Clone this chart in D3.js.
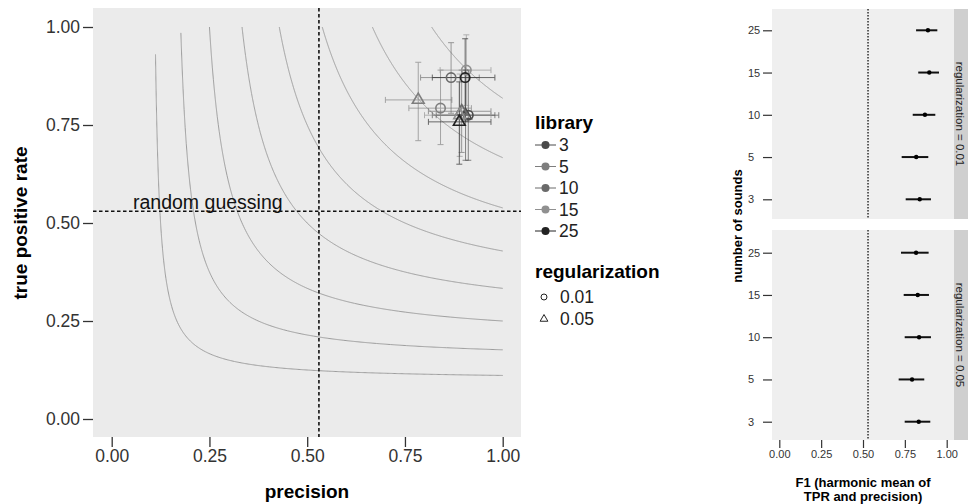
<!DOCTYPE html>
<html><head><meta charset="utf-8">
<script src="https://cdn.jsdelivr.net/npm/d3@7"></script>
<style>
body{margin:0;background:#fff}
svg{display:block;font-family:"Liberation Sans",Arial,Helvetica,sans-serif}
</style>
</head><body>
<svg id="c" width="968" height="504"></svg>
<script>
// ---------- data ----------
const libraries = ["3", "5", "10", "15", "25"];
const regularizations = ["0.01", "0.05"];
const axisTicks = [0, 0.25, 0.5, 0.75, 1];
const randomGuessing = 0.53;
const isoF1Levels = [0.2, 0.3, 0.4, 0.5, 0.6, 0.7, 0.8, 0.9];
const isoF1TopTPR = [0.93, 0.985, 1, 1, 1, 1, 1, 1];

// regularization = 0.01 (library order 3,5,10,15,25)
const precision01 = [0.912, 0.841, 0.868, 0.907, 0.904];
const precisionLo01 = [0.83, 0.76, 0.79, 0.84, 0.82];
const precisionHi01 = [0.98, 0.92, 0.94, 0.97, 0.98];
const tpr01 = [0.775, 0.793, 0.871, 0.890, 0.871];
const tprLo01 = [0.66, 0.70, 0.78, 0.80, 0.76];
const tprHi01 = [0.89, 0.89, 0.96, 0.98, 0.97];
// regularization = 0.05
const precision05 = [0.905, 0.784, 0.895, 0.890, 0.889];
const precisionLo05 = [0.82, 0.70, 0.81, 0.80, 0.81];
const precisionHi05 = [0.99, 0.87, 0.97, 0.97, 0.97];
const tpr05 = [0.775, 0.814, 0.785, 0.775, 0.758];
const tprLo05 = [0.66, 0.71, 0.68, 0.67, 0.65];
const tprHi05 = [0.89, 0.91, 0.89, 0.88, 0.86];

// F1 panel
const soundsOrder = ["25", "15", "10", "5", "3"];
const f1Mean01 = [0.839, 0.818, 0.870, 0.896, 0.888];
const f1Lo01 = [0.755, 0.731, 0.797, 0.830, 0.817];
const f1Hi01 = [0.906, 0.890, 0.932, 0.954, 0.944];
const f1Mean05 = [0.833, 0.793, 0.835, 0.827, 0.817];
const f1Lo05 = [0.749, 0.713, 0.749, 0.743, 0.727];
const f1Hi05 = [0.902, 0.866, 0.906, 0.894, 0.892];

const libraryColors = ["#4a4a4a", "#7e7e7e", "#6a6a6a", "#909090", "#222222"];

// ---------- build ----------
const svg = d3.select("#c");
const color = d3.scaleOrdinal().domain(libraries).range(libraryColors);

const pts = [];
libraries.forEach((lib, i) => {
  pts.push({lib, reg: "0.01", p: precision01[i], pl: precisionLo01[i], ph: precisionHi01[i], r: tpr01[i], rl: tprLo01[i], rh: tprHi01[i]});
  pts.push({lib, reg: "0.05", p: precision05[i], pl: precisionLo05[i], ph: precisionHi05[i], r: tpr05[i], rl: tprLo05[i], rh: tprHi05[i]});
});

// ---------- left panel ----------
const L = {left: 93, right: 521, top: 8, bottom: 437};
const x = d3.scaleLinear().domain([0, 1]).range([111.7, 502.7]);
const y = d3.scaleLinear().domain([0, 1]).range([419, 27]);

svg.append("rect").attr("x", L.left).attr("y", L.top)
  .attr("width", L.right - L.left).attr("height", L.bottom - L.top)
  .attr("fill", "#ebebeb");

const gL = svg.append("g");
svg.append("clipPath").attr("id", "clipL").append("rect")
  .attr("x", L.left).attr("y", L.top).attr("width", L.right - L.left).attr("height", L.bottom - L.top);

// iso-F1 curves
const line = d3.line().x(d => x(d[0])).y(d => y(d[1]));
isoF1Levels.forEach((F, k) => {
  const rTop = isoF1TopTPR[k];
  const rBot = F / (2 - F);
  const pTop = F * rTop / (2 * rTop - F);
  const arr = [];
  d3.range(0, 301).forEach(i => {
    const r = rBot + (rTop - rBot) * i / 300;
    arr.push([F * r / (2 * r - F), r]);
    const p = pTop + (1 - pTop) * i / 300;
    arr.push([p, F * p / (2 * p - F)]);
  });
  arr.sort((a, b) => a[0] - b[0]);
  gL.append("path").datum(arr).attr("d", line)
    .attr("fill", "none").attr("stroke", "#9d9d9d").attr("stroke-width", 1);
});

// random guessing lines
gL.append("line").attr("x1", L.left).attr("x2", L.right)
  .attr("y1", y(randomGuessing)).attr("y2", y(randomGuessing))
  .attr("stroke", "#111").attr("stroke-width", 1.6).attr("stroke-dasharray", "3.5,2.5");
gL.append("line").attr("x1", x(randomGuessing)).attr("x2", x(randomGuessing))
  .attr("y1", L.top).attr("y2", L.bottom)
  .attr("stroke", "#111").attr("stroke-width", 1.6).attr("stroke-dasharray", "3.5,2.5");
gL.append("text").attr("x", 133).attr("y", y(randomGuessing) - 2)
  .attr("font-size", 19.5).attr("fill", "#111").text("random guessing");

// error bars
const cap = 3;
const eb = gL.append("g").attr("clip-path", "url(#clipL)");
pts.forEach(d => {
  const c = color(d.lib);
  const g = eb.append("g").attr("stroke", c).attr("stroke-width", 1).attr("opacity", 0.65);
  g.append("line").attr("x1", x(d.pl)).attr("x2", x(d.ph)).attr("y1", y(d.r)).attr("y2", y(d.r));
  g.append("line").attr("x1", x(d.pl)).attr("x2", x(d.pl)).attr("y1", y(d.r) - cap).attr("y2", y(d.r) + cap);
  g.append("line").attr("x1", x(d.ph)).attr("x2", x(d.ph)).attr("y1", y(d.r) - cap).attr("y2", y(d.r) + cap);
  g.append("line").attr("x1", x(d.p)).attr("x2", x(d.p)).attr("y1", y(d.rl)).attr("y2", y(d.rh));
  g.append("line").attr("x1", x(d.p) - cap).attr("x2", x(d.p) + cap).attr("y1", y(d.rl)).attr("y2", y(d.rl));
  g.append("line").attr("x1", x(d.p) - cap).attr("x2", x(d.p) + cap).attr("y1", y(d.rh)).attr("y2", y(d.rh));
});

// points
const sym = d3.scaleOrdinal().domain(regularizations).range([d3.symbolCircle, d3.symbolTriangle]);
gL.selectAll("path.pt").data(pts).join("path").attr("class", "pt")
  .attr("transform", d => `translate(${x(d.p)},${y(d.r)})`)
  .attr("d", d => d3.symbol().type(sym(d.reg)).size(d.reg === "0.01" ? 70 : 60)())
  .attr("fill", "none").attr("stroke", d => color(d.lib)).attr("stroke-width", 1.6);

// axes
const axL = svg.append("g").attr("transform", `translate(${L.left},0)`)
  .call(d3.axisLeft(y).tickValues(axisTicks).tickFormat(d3.format(".2f")).tickSize(10).tickPadding(3));
const axB = svg.append("g").attr("transform", `translate(0,${L.bottom})`)
  .call(d3.axisBottom(x).tickValues(axisTicks).tickFormat(d3.format(".2f")).tickSize(10).tickPadding(3));
[axL, axB].forEach(a => {
  a.select(".domain").remove();
  a.selectAll("line").attr("stroke", "#333").attr("stroke-width", 1.3);
  a.selectAll("text").attr("font-size", 17.5).attr("fill", "#333").attr("font-family", null);
});
svg.append("text").attr("x", 307).attr("y", 498).attr("text-anchor", "middle")
  .attr("font-size", 19).attr("font-weight", "bold").text("precision");
svg.append("text").attr("transform", `translate(27,${y(0.5)}) rotate(-90)`).attr("text-anchor", "middle")
  .attr("font-size", 19).attr("font-weight", "bold").text("true positive rate");

// legends
const lg = svg.append("g");
lg.append("text").attr("x", 535).attr("y", 129).attr("font-size", 19).attr("font-weight", "bold").text("library");
const libY = d3.scalePoint().domain(libraries).range([145, 231]);
libraries.forEach(lib => {
  const yy = libY(lib);
  lg.append("line").attr("x1", 535).attr("x2", 556).attr("y1", yy).attr("y2", yy)
    .attr("stroke", color(lib)).attr("stroke-width", 1);
  lg.append("circle").attr("cx", 545.5).attr("cy", yy).attr("r", 4).attr("fill", color(lib));
  lg.append("text").attr("x", 559).attr("y", yy).attr("dy", "0.36em").attr("font-size", 17.5).attr("fill", "#222").text(lib);
});
lg.append("text").attr("x", 535).attr("y", 278).attr("font-size", 19).attr("font-weight", "bold").text("regularization");
const regY = d3.scalePoint().domain(regularizations).range([297, 319]);
regularizations.forEach(r => {
  lg.append("path").attr("transform", `translate(544,${regY(r)})`)
    .attr("d", d3.symbol().type(sym(r)).size(r === "0.01" ? 28 : 26)())
    .attr("fill", "none").attr("stroke", "#222").attr("stroke-width", 1);
  lg.append("text").attr("x", 560).attr("y", regY(r)).attr("dy", "0.36em").attr("font-size", 17.5).attr("fill", "#222").text(r);
});

// ---------- right panel ----------
const R = {left: 772, right: 954};
const facets = [
  {reg: "0.01", top: 9, bottom: 219, m: f1Mean01, lo: f1Lo01, hi: f1Hi01, ys: [30.3, 199.3]},
  {reg: "0.05", top: 230, bottom: 440, m: f1Mean05, lo: f1Lo05, hi: f1Hi05, ys: [252.7, 421.7]}
];
const xf = d3.scaleLinear().domain([0, 1]).range([779.3, 946.7]);

facets.forEach(f => {
  svg.append("rect").attr("x", R.left).attr("y", f.top).attr("width", R.right - R.left)
    .attr("height", f.bottom - f.top).attr("fill", "#efefef");
  svg.append("rect").attr("x", R.right).attr("y", f.top).attr("width", 968 - R.right)
    .attr("height", f.bottom - f.top).attr("fill", "#cfcfcf");
  svg.append("text").attr("transform", `translate(960,${(f.top + f.bottom) / 2}) rotate(90)`)
    .attr("text-anchor", "middle").attr("dy", "0.35em").attr("font-size", 11.5).attr("fill", "#222")
    .text("regularization = " + f.reg);
  const ys = d3.scalePoint().domain(soundsOrder).range(f.ys);
  svg.append("line").attr("x1", xf(randomGuessing)).attr("x2", xf(randomGuessing))
    .attr("y1", f.top).attr("y2", f.bottom).attr("stroke", "#111").attr("stroke-width", 1.3)
    .attr("stroke-dasharray", "1.5,1.5");
  libraries.forEach((lib, i) => {
    const yy = ys(lib);
    svg.append("line").attr("x1", xf(f.lo[i])).attr("x2", xf(f.hi[i])).attr("y1", yy).attr("y2", yy)
      .attr("stroke", "#111").attr("stroke-width", 2);
    svg.append("circle").attr("cx", xf(f.m[i])).attr("cy", yy).attr("r", 2.2).attr("fill", "#000");
  });
  const ay = svg.append("g").attr("transform", `translate(${R.left},0)`)
    .call(d3.axisLeft(ys).tickSize(9).tickFormat(""));
  ay.select(".domain").remove();
  ay.selectAll("line").attr("stroke", "#333").attr("stroke-width", 1.2);
  soundsOrder.forEach(s => {
    svg.append("text").attr("x", 748).attr("y", ys(s)).attr("dy", "0.36em")
      .attr("font-size", 11).attr("fill", "#333").text(s);
  });
});
const axR = svg.append("g").attr("transform", `translate(0,440)`)
  .call(d3.axisBottom(xf).tickValues(axisTicks).tickFormat(d3.format(".2f")).tickSize(8).tickPadding(2));
axR.select(".domain").remove();
axR.selectAll("line").attr("stroke", "#333").attr("stroke-width", 1.2);
axR.selectAll("text").attr("font-size", 11).attr("fill", "#333").attr("font-family", null);

svg.append("text").attr("x", 863).attr("y", 487).attr("text-anchor", "middle")
  .attr("font-size", 13).attr("font-weight", "bold").text("F1 (harmonic mean of");
svg.append("text").attr("x", 863).attr("y", 501).attr("text-anchor", "middle")
  .attr("font-size", 13).attr("font-weight", "bold").text("TPR and precision)");
svg.append("text").attr("transform", `translate(742,226) rotate(-90)`).attr("text-anchor", "middle")
  .attr("font-size", 13).attr("font-weight", "bold").text("number of sounds");
</script>
</body></html>
